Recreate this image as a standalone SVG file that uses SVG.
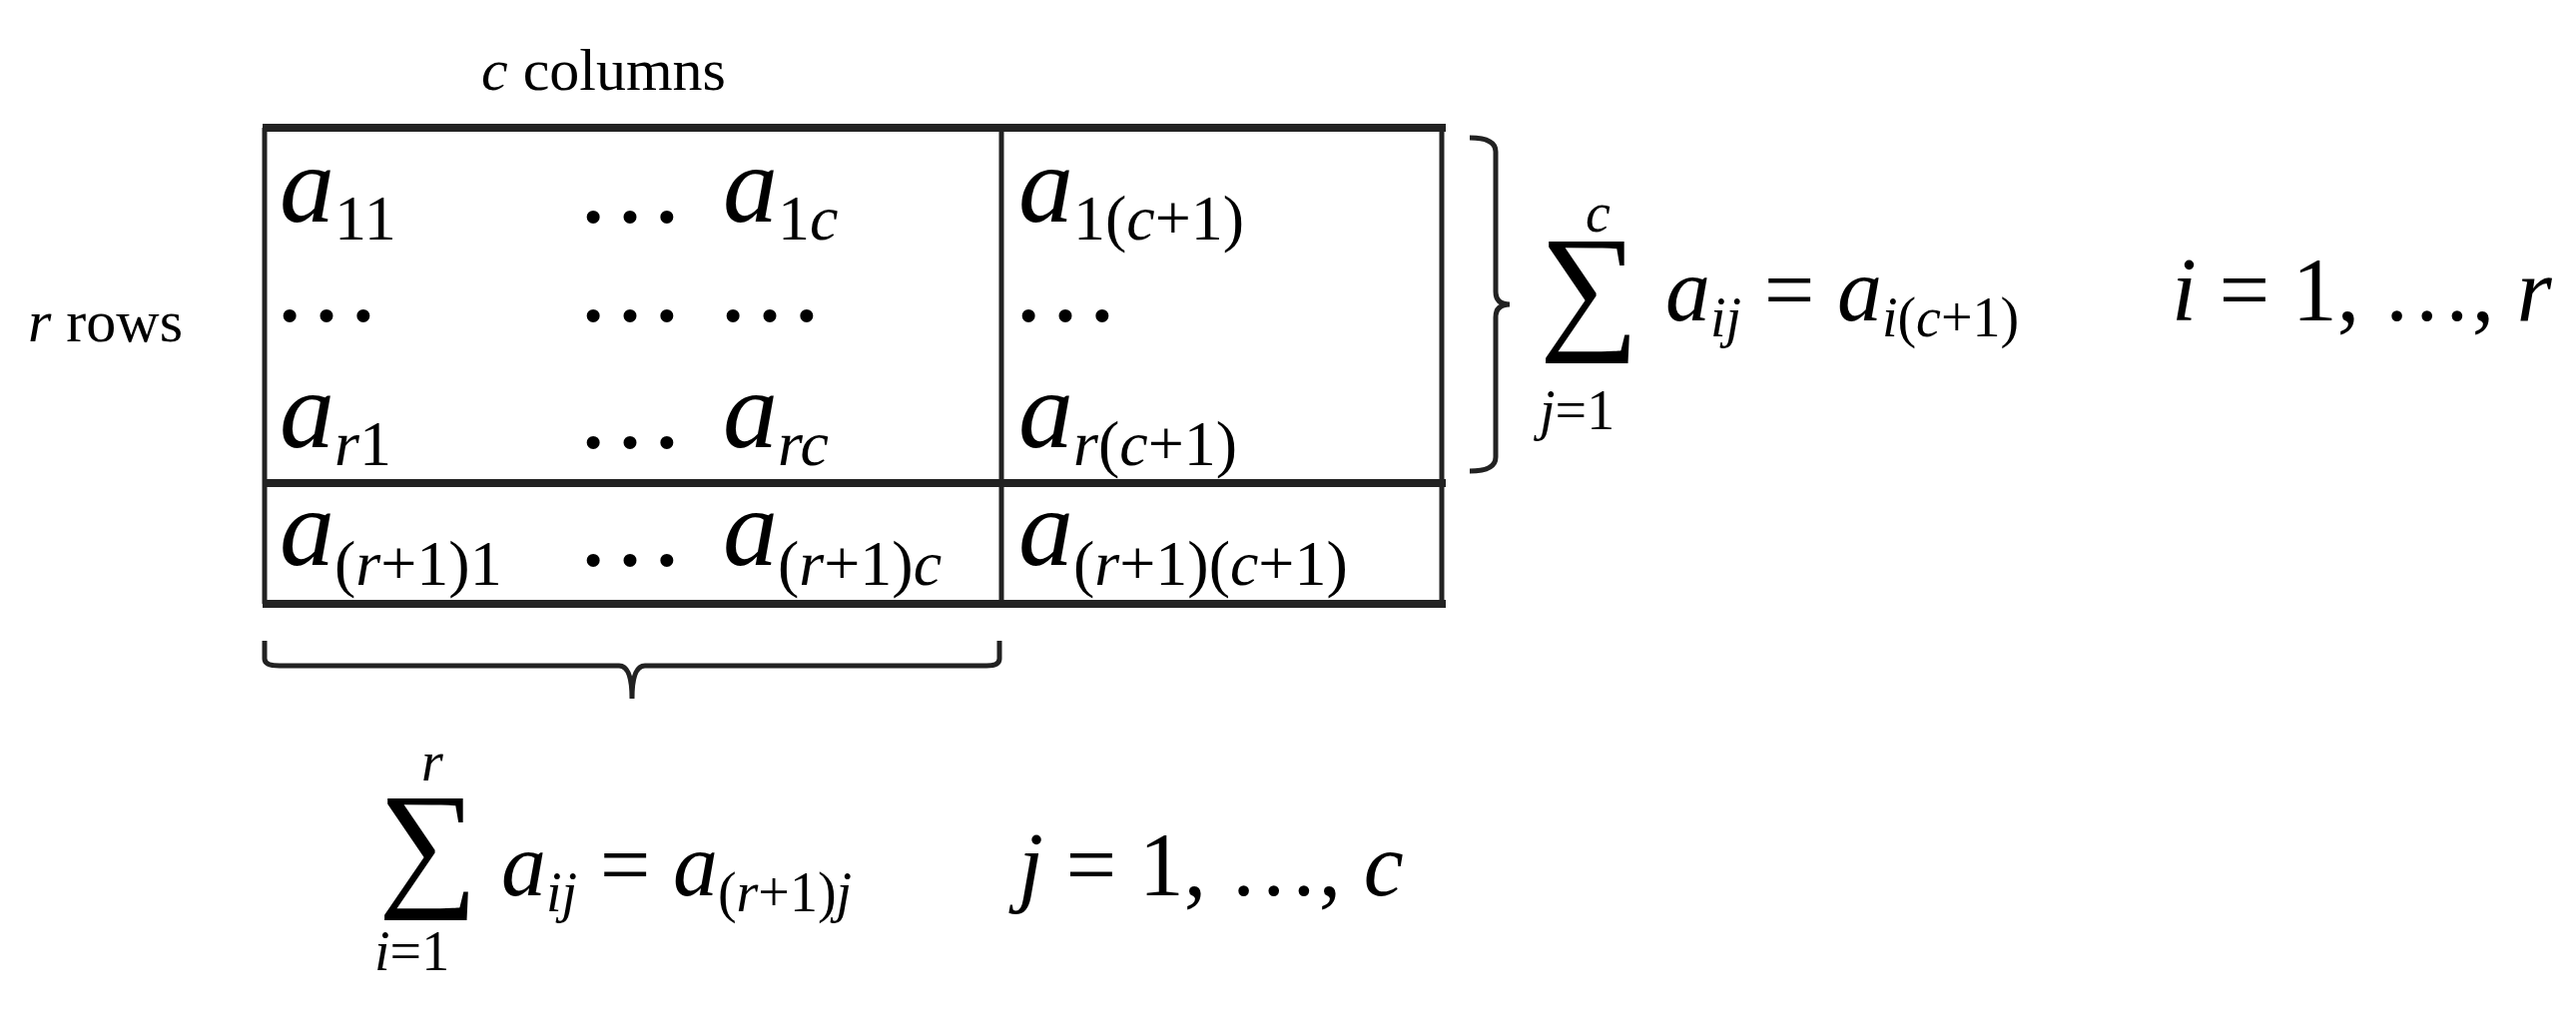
<svg xmlns="http://www.w3.org/2000/svg" width="2580" height="1038" viewBox="0 0 2580 1038" font-family="'Liberation Serif', Tinos, 'Times New Roman', 'DejaVu Serif', serif">
<style>
text{font-family:"Liberation Serif",Tinos,"Times New Roman","DejaVu Serif",serif;fill:#000}
.m{font-style:italic;font-size:110px}
.s{font-size:64px}
.e{font-style:italic;font-size:90px}
.es{font-size:56px}
.n{font-style:normal}
.sig{font-size:140px;font-style:normal}
.ln{stroke:#222;fill:none;stroke-width:5}
.thk{stroke:#222;fill:none;stroke-width:8}
</style>
<rect width="2580" height="1038" fill="#fff"/>
<g id="labels">
<text x="482" y="90" font-size="60"><tspan font-style="italic">c</tspan> columns</text>
<text x="28" y="342" font-size="60"><tspan font-style="italic">r</tspan> rows</text>
</g>
<g id="table">
<line class="thk" x1="263" y1="128" x2="1448" y2="128"/>
<line class="thk" x1="263" y1="484" x2="1448" y2="484"/>
<line class="thk" x1="263" y1="605" x2="1448" y2="605"/>
<line class="ln" x1="265" y1="128" x2="265" y2="605"/>
<line class="ln" x1="1003" y1="128" x2="1003" y2="605"/>
<line class="ln" x1="1444" y1="128" x2="1444" y2="605"/>
</g>
<g id="cells">
<text class="m" x="280" y="222">a<tspan class="s n" dy="18">11</tspan></text>
<text class="m" x="584" y="222">…</text>
<text class="m" x="724" y="222">a<tspan class="s n" dy="18">1</tspan><tspan class="s">c</tspan></text>
<text class="m" x="1020" y="222">a<tspan class="s n" dy="18">1(</tspan><tspan class="s">c</tspan><tspan class="s n">+1)</tspan></text>
<text class="m" x="280" y="321">…</text>
<text class="m" x="584" y="321">…</text>
<text class="m" x="724" y="321">…</text>
<text class="m" x="1020" y="321">…</text>
<text class="m" x="280" y="448">a<tspan class="s" dy="18">r</tspan><tspan class="s n">1</tspan></text>
<text class="m" x="584" y="448">…</text>
<text class="m" x="724" y="448">a<tspan class="s" dy="18">rc</tspan></text>
<text class="m" x="1020" y="448">a<tspan class="s" dy="18">r</tspan><tspan class="s n">(</tspan><tspan class="s">c</tspan><tspan class="s n">+1)</tspan></text>
<text class="m" x="280" y="566">a<tspan class="s n" dy="20">(</tspan><tspan class="s">r</tspan><tspan class="s n">+1)1</tspan></text>
<text class="m" x="584" y="566">…</text>
<text class="m" x="724" y="566">a<tspan class="s n" dy="20">(</tspan><tspan class="s">r</tspan><tspan class="s n">+1)</tspan><tspan class="s">c</tspan></text>
<text class="m" x="1020" y="566">a<tspan class="s n" dy="20">(</tspan><tspan class="s">r</tspan><tspan class="s n">+1)(</tspan><tspan class="s">c</tspan><tspan class="s n">+1)</tspan></text>
</g>
<g id="connectors">
<path class="ln" d="M1472 138 Q1498 138 1498 152 L1498 292 Q1498 305 1512 305 Q1498 305 1498 318 L1498 458 Q1498 472 1472 472"/>
<path class="ln" d="M265 642 L265 660 Q265 667 280 667 L620 667 Q633 667 633 700 Q633 667 646 667 L988 667 Q1001 667 1001 660 L1001 642"/>
</g>
<g id="rowsum">
<text class="sig" x="1542" y="334">∑</text>
<text class="es" x="1588" y="232" font-style="italic">c</text>
<text class="es" x="1542" y="430"><tspan font-style="italic">j</tspan>=1</text>
<text class="e" x="1668" y="321">a<tspan class="es" dy="16">ij</tspan><tspan class="n" dy="-16"> = </tspan>a<tspan class="es" dy="16">i</tspan><tspan class="es n">(</tspan><tspan class="es">c</tspan><tspan class="es n">+1)</tspan></text>
<text class="e" x="2175" y="321">i<tspan class="n"> = 1, …, </tspan>r</text>
</g>
<g id="colsum">
<text class="sig" x="379" y="892">∑</text>
<text class="es" x="422" y="782" font-style="italic">r</text>
<text class="es" x="375" y="972"><tspan font-style="italic">i</tspan>=1</text>
<text class="e" x="502" y="897">a<tspan class="es" dy="16">ij</tspan><tspan class="n" dy="-16"> = </tspan>a<tspan class="es n" dy="16">(</tspan><tspan class="es">r</tspan><tspan class="es n">+1)</tspan><tspan class="es">j</tspan></text>
<text class="e" x="1020" y="897">j<tspan class="n"> = 1, …, </tspan>c</text>
</g>
</svg>
